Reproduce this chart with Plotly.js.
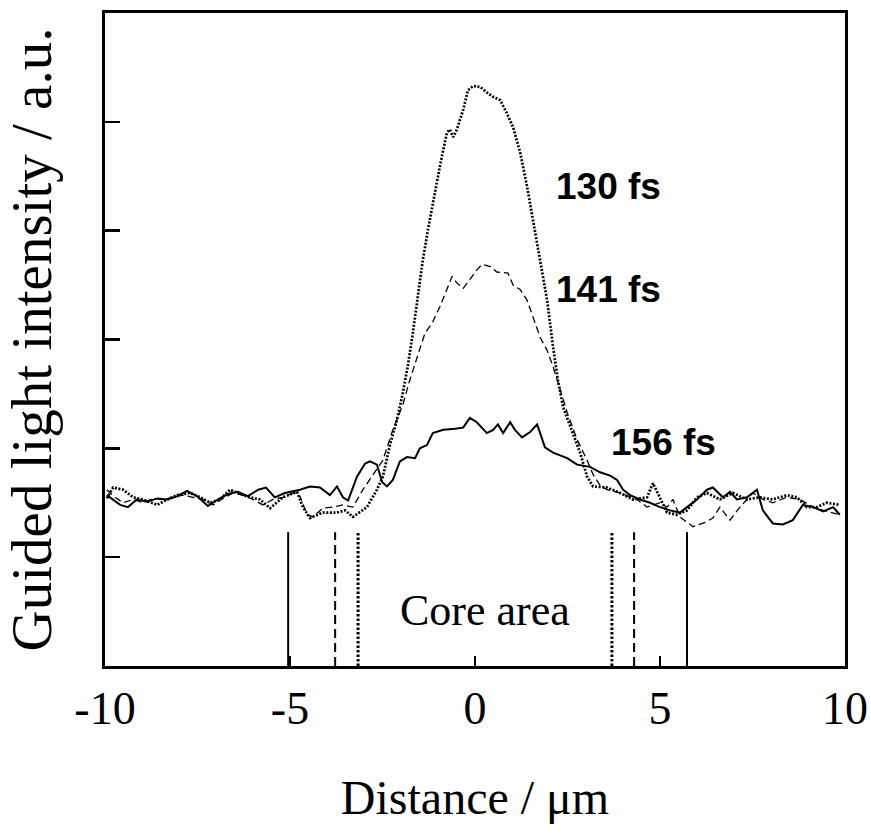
<!DOCTYPE html>
<html>
<head>
<meta charset="utf-8">
<script src="https://cdn.plot.ly/plotly-3.0.1.min.js"></script>
<style>html,body{margin:0;padding:0;background:#fff;}</style>
</head>
<body>
<div id="chart" style="width:871px;height:840px;"></div>
<script>
// ---- Data (Distance in µm, intensity in a.u.) ----
const x156 = [-9.95,-9.78,-9.59,-9.38,-9.14,-8.86,-8.59,-8.32,-8.05,-7.78,-7.51,-7.22,-6.95,-6.68,-6.41,-6.14,-5.86,-5.65,-5.41,-5.14,-4.86,-4.73,-4.46,-4.19,-3.92,-3.73,-3.57,-3.43,-3.19,-2.97,-2.84,-2.65,-2.51,-2.38,-2.22,-2.03,-1.84,-1.62,-1.49,-1.30,-1.14,-0.86,-0.54,-0.32,-0.14,0.05,0.32,0.49,0.62,0.76,0.95,1.08,1.27,1.49,1.68,1.76,1.89,2.11,2.49,2.76,3.11,3.38,3.65,3.84,4.00,4.19,4.46,4.73,5.00,5.27,5.54,5.73,6.00,6.27,6.43,6.70,6.89,7.08,7.35,7.62,7.78,8.05,8.32,8.59,8.86,9.14,9.41,9.68,9.86];
const y156 = [1.57,1.53,1.48,1.46,1.53,1.51,1.54,1.53,1.56,1.61,1.56,1.47,1.53,1.58,1.60,1.56,1.62,1.64,1.55,1.59,1.61,1.62,1.65,1.64,1.57,1.65,1.55,1.52,1.74,1.86,1.88,1.85,1.69,1.65,1.71,1.88,1.92,1.91,2.00,2.03,2.14,2.17,2.18,2.19,2.28,2.24,2.14,2.17,2.22,2.14,2.24,2.17,2.10,2.15,2.22,2.14,2.01,1.96,1.91,1.85,1.83,1.78,1.75,1.71,1.62,1.57,1.53,1.50,1.46,1.43,1.41,1.46,1.53,1.62,1.64,1.55,1.60,1.53,1.55,1.62,1.43,1.31,1.30,1.34,1.48,1.46,1.42,1.46,1.39];

const x141 = [-9.95,-9.73,-9.51,-9.24,-8.97,-8.70,-8.43,-8.16,-7.89,-7.62,-7.35,-7.08,-6.81,-6.54,-6.27,-6.00,-5.73,-5.46,-5.19,-4.92,-4.73,-4.54,-4.38,-4.11,-3.84,-3.57,-3.30,-3.03,-2.76,-2.49,-2.22,-1.95,-1.76,-1.54,-1.35,-1.16,-0.95,-0.76,-0.62,-0.49,-0.32,-0.14,0.05,0.19,0.41,0.59,0.89,1.03,1.22,1.41,1.57,1.76,1.95,2.11,2.30,2.49,2.76,3.03,3.19,3.38,3.57,3.92,4.38,4.65,5.00,5.19,5.35,5.54,5.89,6.22,6.43,6.62,6.89,7.16,7.51,7.78,8.05,8.43,8.78,9.14,9.41,9.68,9.86];
const y141 = [1.62,1.55,1.50,1.53,1.50,1.54,1.53,1.55,1.57,1.55,1.53,1.48,1.54,1.59,1.57,1.53,1.48,1.53,1.55,1.59,1.56,1.39,1.37,1.45,1.46,1.48,1.46,1.62,1.76,1.89,2.17,2.40,2.63,2.86,3.06,3.15,3.30,3.46,3.58,3.52,3.47,3.55,3.64,3.69,3.67,3.62,3.61,3.50,3.46,3.36,3.21,3.02,2.90,2.75,2.54,2.33,2.08,1.89,1.76,1.66,1.62,1.59,1.53,1.46,1.50,1.46,1.53,1.37,1.28,1.32,1.36,1.46,1.34,1.46,1.59,1.53,1.50,1.55,1.53,1.46,1.43,1.41,1.39];

const x130 = [-9.95,-9.78,-9.51,-9.24,-8.97,-8.59,-8.32,-8.05,-7.70,-7.43,-7.16,-6.89,-6.62,-6.35,-6.08,-5.81,-5.54,-5.19,-4.81,-4.65,-4.46,-4.11,-3.73,-3.51,-3.30,-2.92,-2.65,-2.49,-2.30,-2.11,-1.95,-1.81,-1.68,-1.54,-1.41,-1.27,-1.14,-0.95,-0.76,-0.68,-0.59,-0.49,-0.32,-0.19,-0.05,0.14,0.32,0.49,0.68,0.86,1.03,1.22,1.41,1.57,1.76,1.95,2.11,2.24,2.38,2.57,2.84,3.03,3.19,3.57,3.92,4.27,4.65,4.81,5.00,5.19,5.46,5.73,6.00,6.27,6.62,6.97,7.35,7.70,8.05,8.43,8.70,8.97,9.24,9.51,9.86];
const y130 = [1.54,1.64,1.62,1.55,1.53,1.48,1.53,1.57,1.59,1.55,1.50,1.53,1.62,1.58,1.55,1.53,1.45,1.55,1.60,1.46,1.36,1.41,1.41,1.43,1.37,1.46,1.62,1.74,2.03,2.26,2.51,2.77,3.06,3.41,3.73,4.01,4.26,4.59,4.90,4.93,4.86,4.93,5.11,5.29,5.33,5.32,5.27,5.23,5.20,5.08,4.95,4.72,4.40,4.10,3.73,3.36,2.93,2.63,2.38,2.20,1.96,1.74,1.65,1.64,1.59,1.53,1.55,1.68,1.55,1.41,1.39,1.43,1.55,1.59,1.53,1.59,1.53,1.55,1.53,1.57,1.55,1.46,1.46,1.50,1.48];

// Core-area boundaries for each pulse width (µm)
const core156 = [-5.05, 5.73];
const core141 = [-3.78, 4.30];
const core130 = [-3.16, 3.70];
const coreMarkerTop = 1.23;

// Axis ticks
const xTicks = [-10, -5, 0, 5, 10];
const yTicks = [1, 2, 3, 4, 5];

// Labels
const labels = [
  {text: '130 fs', x: 3.62, y: 4.41},
  {text: '141 fs', x: 3.62, y: 3.46},
  {text: '156 fs', x: 5.10, y: 2.05}
];
const coreLabel = {text: 'Core area', x: 0.27, y: 0.51};

function coreTrace(c, dash, width) {
  return {
    x: [c[0], c[0], null, c[1], c[1]],
    y: [0, coreMarkerTop, null, 0, coreMarkerTop],
    mode: 'lines', type: 'scatter', hoverinfo: 'skip', showlegend: false,
    line: {color: '#000', width: width, dash: dash}
  };
}

const traces = [
  {x: x156, y: y156, mode: 'lines', type: 'scatter', name: '156 fs',
   line: {color: '#000', width: 2, dash: 'solid'}},
  {x: x141, y: y141, mode: 'lines', type: 'scatter', name: '141 fs',
   line: {color: '#000', width: 1.3, dash: '7px,4px'}},
  {x: x130, y: y130, mode: 'lines', type: 'scatter', name: '130 fs',
   line: {color: '#000', width: 2.7, dash: '2px,1.6px'}},
  coreTrace(core156, 'solid', 2),
  coreTrace(core141, '9px,5px', 2),
  coreTrace(core130, '2.5px,2px', 3)
];

const serif = '"Liberation Serif", "Times New Roman", Times, serif';
const annotations = labels.map(l => ({
  x: l.x, y: l.y, xref: 'x', yref: 'y', text: '<b>' + l.text + '</b>',
  showarrow: false, xanchor: 'center', yanchor: 'middle',
  font: {family: '"Liberation Sans Narrow", "Liberation Sans", Arial, sans-serif', size: 37, color: '#000'}
}));
annotations.push({
  x: coreLabel.x, y: coreLabel.y, xref: 'x', yref: 'y', text: coreLabel.text,
  showarrow: false, xanchor: 'center', yanchor: 'middle',
  font: {family: serif, size: 44, color: '#000'}
});

const layout = {
  width: 871, height: 840,
  margin: {l: 105, r: 26, t: 13, b: 174},
  paper_bgcolor: '#fff', plot_bgcolor: '#fff',
  showlegend: false,
  font: {family: serif, color: '#000'},
  xaxis: {
    range: [-10, 10], tickvals: xTicks, ticktext: xTicks.map(String),
    ticks: 'inside', ticklen: 10, tickwidth: 2, tickcolor: '#000',
    showline: true, linewidth: 3, linecolor: '#000', mirror: true,
    showgrid: false, zeroline: false,
    tickfont: {family: serif, size: 46, color: '#000'},
    title: {text: 'Distance / μm', font: {family: serif, size: 48, color: '#000'}, standoff: 48}
  },
  yaxis: {
    range: [0, 6], tickvals: yTicks, showticklabels: false,
    ticks: 'inside', ticklen: 15, tickwidth: 2.5, tickcolor: '#000',
    showline: true, linewidth: 3, linecolor: '#000', mirror: true,
    showgrid: false, zeroline: false,
    title: {text: 'Guided light intensity / a.u.', font: {family: serif, size: 57, color: '#000'}, standoff: 40}
  },
  annotations: annotations
};

Plotly.newPlot('chart', traces, layout, {displayModeBar: false, staticPlot: true});
</script>
</body>
</html>
